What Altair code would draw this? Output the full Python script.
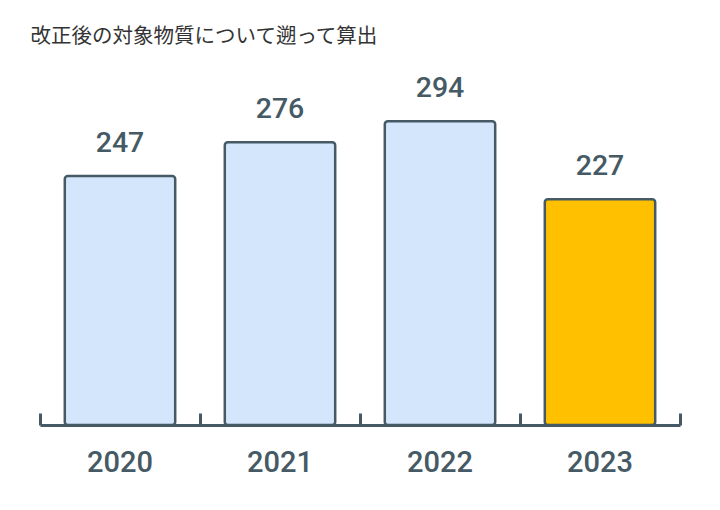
import altair as alt
import pandas as pd

years = ["2020", "2021", "2022", "2023"]
values = [247, 276, 294, 227]
fills = ["#d3e6fb", "#d3e6fb", "#d3e6fb", "#ffc000"]
title_text = "改正後の対象物質について遡って算出"

df = pd.DataFrame({"year": years, "value": values, "fill": fills})

Y0, Y1 = 33, 346.6
H = 365
W = 640
dark = "#455a64"

band = alt.Scale(paddingInner=0.31, paddingOuter=0.155)
y = alt.Y("value:Q", scale=alt.Scale(domain=[Y0, Y1], zero=False, nice=False), axis=None)

bars = alt.Chart(df).mark_bar(stroke=dark, strokeWidth=2.5, cornerRadius=3).encode(
    x=alt.X("year:N", sort=years, scale=band,
            axis=alt.Axis(title=None, orient="bottom", ticks=False, domain=False,
                          labelAngle=0, labelFont="Roboto", labelFontSize=29,
                          labelFontWeight=500, labelColor=dark, labelPadding=23,
                          grid=False)),
    y=y, y2=alt.datum(Y0),
    fill=alt.Fill("fill:N", scale=None),
)

labels = alt.Chart(df).mark_text(baseline="alphabetic", dy=-24, font="Roboto", fontSize=28.5,
                                 fontWeight=500, color=dark).encode(
    x=alt.X("year:N", sort=years, scale=band, axis=None), y=y, text="value:Q")

ticks = alt.Chart(df).mark_bar(opacity=0).encode(
    x=alt.X("year:N", sort=years,
            scale=alt.Scale(paddingInner=0, paddingOuter=0),
            axis=alt.Axis(title=None, orient="top", offset=-H, labels=False,
                          ticks=True, tickBand="extent", tickSize=12, tickWidth=3,
                          tickColor=dark, domain=True, domainColor=dark,
                          domainWidth=3, grid=False)),
    y=y, y2=alt.datum(Y0),
)

chart = alt.layer(bars, labels, ticks).resolve_scale(x="independent").resolve_axis(
    x="independent").properties(
    width=W, height=H,
    autosize="none",
    padding={"left": 32, "top": 52, "right": 24, "bottom": 77},
    title=alt.TitleParams(title_text, anchor="start", dx=-8, offset=13,
                          font="Noto Sans CJK JP", fontSize=20.5, fontWeight="normal",
                          color="#333333"),
).configure_view(stroke=None)

chart.save("out.html", embed_options={"renderer": "svg", "actions": False})
